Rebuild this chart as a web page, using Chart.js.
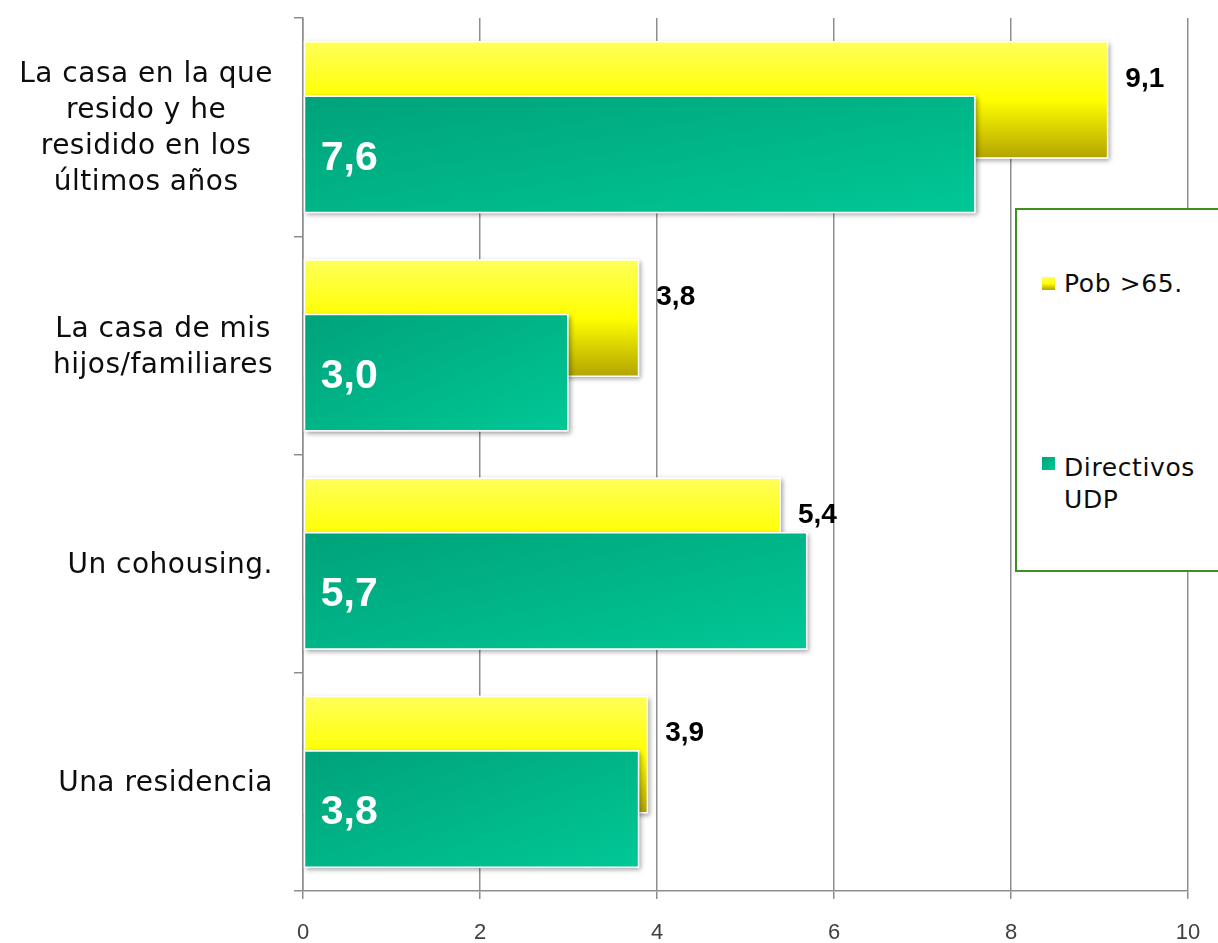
<!DOCTYPE html>
<html>
<head>
<meta charset="utf-8">
<script src="https://cdn.jsdelivr.net/npm/chart.js@4.4.1/dist/chart.umd.min.js"></script>
<style>
    body {
        margin: 0;
        width: 1218px;
        height: 943px;
        overflow: hidden;
        background: #fff;
        position: relative;
        font-family: "DejaVu Sans", sans-serif;
    }
    #chart {
        position: absolute;
        left: 0;
        top: 0;
    }
    #legend {
        position: absolute;
        left: 1015px;
        top: 208px;
        width: 230px;
        height: 360px;
        border: 2px solid #3f8f1f;
        background: #fff;
    }
    #legend .marker {
        position: absolute;
        left: 25px;
        width: 13px;
        height: 13px;
    }
    #legend .text {
        position: absolute;
        left: 47px;
        width: 150px;
        font-size: 25px;
        line-height: 32px;
        letter-spacing: 0.6px;
        color: #0d0d0d;
    }
</style>
</head>
<body>
<canvas id="chart" width="1218" height="943"></canvas>
<div id="legend">
    <div class="marker" id="marker0" style="top:67px"></div>
    <div class="text" id="text0" style="top:58px"></div>
    <div class="marker" id="marker1" style="top:247px"></div>
    <div class="text" id="text1" style="top:242px"></div>
</div>
<script>
// data
var categories = [
    ["La casa en la que", "resido y he", "residido en los", "últimos años"],
    ["La casa de mis", "hijos/familiares"],
    ["Un cohousing."],
    ["Una residencia"]
];
var series_names = ["Pob >65.", "Directivos UDP"];
var values_pob = [9.1, 3.8, 5.4, 3.9];
var values_udp = [7.6, 3.0, 5.7, 3.8];
var x_min = 0;
var x_max = 10;
var x_step = 2;

function fmt(v) {
    return v.toFixed(1).replace(".", ",");
}

function barBox(bar) {
    var p = bar.getProps(["x", "y", "base", "height"], true);
    return {
        left: Math.min(p.x, p.base),
        right: Math.max(p.x, p.base),
        top: p.y - p.height / 2,
        bottom: p.y + p.height / 2,
        y: p.y,
        height: p.height
    };
}

function fillFor(ctx, i, b) {
    var g;
    if (i === 0) {
        g = ctx.createLinearGradient(0, b.top, 0, b.bottom);
        g.addColorStop(0, "#ffff5c");
        g.addColorStop(0.5, "#ffff00");
        g.addColorStop(1, "#b2a300");
    } else {
        // corner to corner, like a gradient stretched with the shape
        var w = b.right - b.left;
        var h = b.bottom - b.top;
        var f = (2 * w * h) / (w * w + h * h);
        g = ctx.createLinearGradient(b.left, b.top, b.left + h * f, b.top + w * f);
        g.addColorStop(0, "#00a27a");
        g.addColorStop(1, "#00c896");
    }
    return g;
}

// yellow first, green over it, each with a soft shadow
var layering = {
    id: "layering",
    beforeDatasetDraw: function () {
        return false;
    },
    afterDatasetsDraw: function (chart) {
        var ctx = chart.ctx;
        [0, 1].forEach(function (i) {
            var meta = chart.getDatasetMeta(i);
            meta.data.forEach(function (bar) {
                var b = barBox(bar);
                ctx.save();
                ctx.shadowColor = "rgba(0,0,0,0.4)";
                ctx.shadowBlur = 5;
                ctx.shadowOffsetX = 2;
                ctx.shadowOffsetY = 2;
                ctx.fillStyle = "#fff";
                ctx.fillRect(b.left, b.top, b.right - b.left, b.bottom - b.top);
                ctx.restore();
                bar.options = Object.assign({}, bar.options, {
                    backgroundColor: fillFor(ctx, i, b)
                });
                bar.draw(ctx);
            });
        });
    }
};

var valueLabels = {
    id: "valueLabels",
    afterDatasetsDraw: function (chart) {
        var ctx = chart.ctx;
        ctx.save();
        ctx.textBaseline = "middle";
        ctx.textAlign = "left";
        chart.getDatasetMeta(0).data.forEach(function (bar, k) {
            var b = barBox(bar);
            ctx.font = "bold 28px 'Liberation Sans'";
            ctx.fillStyle = "#000";
            ctx.fillText(fmt(values_pob[k]), b.right + 17, b.y - 21);
        });
        chart.getDatasetMeta(1).data.forEach(function (bar, k) {
            var b = barBox(bar);
            ctx.font = "bold 41px 'Liberation Sans'";
            ctx.fillStyle = "#fff";
            ctx.fillText(fmt(values_udp[k]), b.left + 17, b.y + 4);
        });
        ctx.restore();
    }
};

// category labels: block right aligned, lines centered inside it
var categoryLabels = {
    id: "categoryLabels",
    afterDraw: function (chart) {
        var ctx = chart.ctx;
        var yScale = chart.scales.y;
        ctx.save();
        ctx.font = "28px 'DejaVu Sans'";
        ctx.letterSpacing = "0.5px";
        ctx.fillStyle = "#0d0d0d";
        ctx.textAlign = "center";
        ctx.textBaseline = "middle";
        categories.forEach(function (lines, i) {
            var widest = 0;
            lines.forEach(function (l) {
                widest = Math.max(widest, ctx.measureText(l).width);
            });
            var cx = 273 - widest / 2;
            var cy = yScale.getPixelForValue(i) + 2;
            lines.forEach(function (l, j) {
                ctx.fillText(l, cx, cy + (j - (lines.length - 1) / 2) * 36);
            });
        });
        ctx.restore();
    }
};

var ctx = document.getElementById("chart").getContext("2d");
new Chart(ctx, {
    type: "bar",
    data: {
        labels: categories,
        datasets: [
            {
                label: series_names[0],
                data: values_pob,
                backgroundColor: "#ffff00",
                borderColor: "#ffffff",
                borderWidth: 1.5,
                borderSkipped: false,
                categoryPercentage: 0.5,
                barPercentage: 2.16
            },
            {
                label: series_names[1],
                data: values_udp,
                backgroundColor: "#00b388",
                borderColor: "#ffffff",
                borderWidth: 1.5,
                borderSkipped: false,
                categoryPercentage: 0.5,
                barPercentage: 2.16
            }
        ]
    },
    options: {
        indexAxis: "y",
        responsive: false,
        animation: false,
        layout: {
            padding: { top: 18, right: 30, left: 0, bottom: 0 }
        },
        plugins: {
            legend: { display: false },
            tooltip: { enabled: false }
        },
        scales: {
            x: {
                min: x_min,
                max: x_max,
                ticks: {
                    stepSize: x_step,
                    padding: 10,
                    color: "#404040",
                    font: { family: "'Liberation Sans'", size: 22, lineHeight: 2.2 }
                },
                grid: {
                    color: "#8e8e8e",
                    lineWidth: 1.5,
                    tickLength: 8
                },
                border: { color: "#8e8e8e", width: 1.5 },
                afterFit: function (scale) {
                    scale.height = 52;
                }
            },
            y: {
                ticks: { display: false },
                grid: {
                    drawOnChartArea: false,
                    color: "#8e8e8e",
                    lineWidth: 1.5,
                    tickLength: 9
                },
                border: { color: "#8e8e8e", width: 1.5 },
                afterFit: function (scale) {
                    scale.width = 303;
                }
            }
        }
    },
    plugins: [layering, valueLabels, categoryLabels]
});

// legend
function legendMarker(id, i) {
    var el = document.getElementById(id);
    el.style.background = i === 0
        ? "linear-gradient(#ffff5c, #ffff00 50%, #b2a300)"
        : "linear-gradient(135deg, #00a27a, #00c896)";
}
legendMarker("marker0", 0);
legendMarker("marker1", 1);
document.getElementById("text0").textContent = series_names[0];
document.getElementById("text1").textContent = series_names[1];
</script>
</body>
</html>
